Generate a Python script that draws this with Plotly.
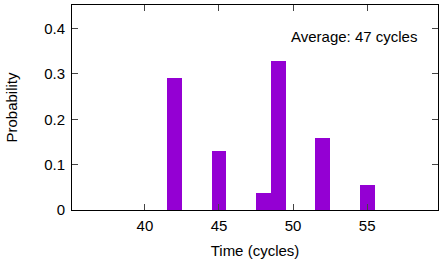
import plotly.graph_objects as go

cycles = [42, 45, 48, 49, 52, 55]
probability = [0.290, 0.129, 0.0365, 0.329, 0.159, 0.0547]
x_ticks = [40, 45, 50, 55]
y_ticks = [0, 0.1, 0.2, 0.3, 0.4]
y_tick_labels = ["0", "0.1", "0.2", "0.3", "0.4"]
annotation_text = "Average: 47 cycles"

fig = go.Figure()
fig.add_trace(go.Bar(
    x=cycles, y=probability, width=1,
    marker=dict(color="#9400D3", line=dict(width=0)),
))

font = dict(family="Liberation Sans, Arial, sans-serif", size=15, color="black")

fig.update_layout(
    width=444, height=262,
    margin=dict(l=72, r=6, t=5, b=52),
    plot_bgcolor="white", paper_bgcolor="white",
    font=font, showlegend=False, bargap=0,
    xaxis=dict(
        range=[35.08, 59.78], tickvals=x_ticks, ticks="inside", ticklen=6,
        showline=True, linecolor="black", linewidth=1, mirror="ticks",
        showgrid=False, zeroline=False, ticklabelstandoff=2,
        title=dict(text="Time (cycles)", standoff=12, font=font),
        tickfont=font,
    ),
    yaxis=dict(
        range=[0, 0.452], tickvals=y_ticks, ticktext=y_tick_labels,
        ticks="inside", ticklen=6,
        showline=True, linecolor="black", linewidth=1, mirror="ticks",
        showgrid=False, zeroline=False, ticklabelstandoff=3,
        title=dict(text="Probability", standoff=22, font=font),
        tickfont=font,
    ),
    annotations=[dict(
        text=annotation_text, xref="paper", yref="paper",
        x=0.948, y=0.847, xanchor="right", yanchor="middle",
        showarrow=False, font=font,
    )],
)

fig.write_html("out.html")
